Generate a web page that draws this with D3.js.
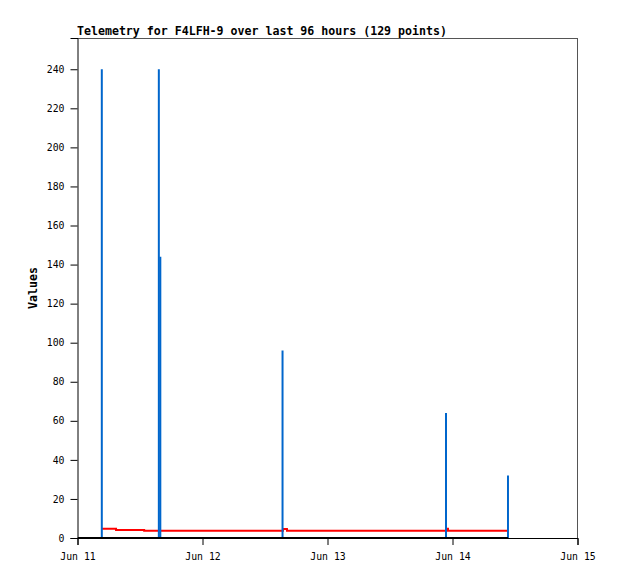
<!DOCTYPE html>
<html>
<head>
<meta charset="utf-8">
<script src="https://cdn.jsdelivr.net/npm/d3@7"></script>
<style>
  html, body { margin: 0; padding: 0; background: #fff; }
  svg { display: block; }
</style>
</head>
<body>
<svg id="chart" width="618" height="579"></svg>
<script>
// ---- data ----
const titleText = "Telemetry for F4LFH-9 over last 96 hours (129 points)";
const yLabel = "Values";
const yTicks = [0, 20, 40, 60, 80, 100, 120, 140, 160, 180, 200, 220, 240];
const xTickDates = ["2023-06-11T00:00Z", "2023-06-12T00:00Z", "2023-06-13T00:00Z", "2023-06-14T00:00Z", "2023-06-15T00:00Z"];

// red series (step)
const redTimes = ["2023-06-11T04:40Z", "2023-06-11T07:24Z", "2023-06-11T12:48Z", "2023-06-12T15:27Z", "2023-06-12T16:13Z", "2023-06-13T22:50Z", "2023-06-13T23:08Z", "2023-06-14T10:28Z"];
const redValues = [4.7, 4.1, 3.7, 4.6, 3.7, 4.8, 3.7, 3.7];

// blue series (impulses)
const blueTimes = ["2023-06-11T04:40Z", "2023-06-11T15:37Z", "2023-06-11T15:54Z", "2023-06-12T15:22Z", "2023-06-13T22:45Z", "2023-06-14T10:39Z"];
const blueValues = [240, 240, 144, 96, 64, 32];

// black series
const blackTimes = ["2023-06-11T00:00Z", "2023-06-14T10:40Z"];
const blackValues = [0, 0];

(function () {
  const svg = d3.select("#chart");
  const mLeft = 77.5, mRight = 577.5, mTop = 38, mBottom = 538;
  const parse = s => new Date(s);

  const x = d3.scaleUtc()
    .domain([parse(xTickDates[0]), parse(xTickDates[xTickDates.length - 1])])
    .range([mLeft, mRight]);
  const y = d3.scaleLinear().domain([0, 256]).range([mBottom, mTop]);

  const monoFont = "'DejaVu Sans Mono', monospace";

  // frame (top & right)
  svg.append("line").attr("x1", mLeft).attr("x2", mRight).attr("y1", mTop + 0.5).attr("y2", mTop + 0.5)
    .attr("stroke", "#555").attr("stroke-width", 1);
  svg.append("line").attr("x1", mRight).attr("x2", mRight).attr("y1", mTop).attr("y2", mBottom)
    .attr("stroke", "#555").attr("stroke-width", 1);

  svg.append("clipPath").attr("id", "plotclip")
    .append("rect").attr("x", mLeft).attr("y", mTop).attr("width", mRight - mLeft).attr("height", mBottom - mTop + 2);

  const plot = svg.append("g").attr("clip-path", "url(#plotclip)");

  // red step line
  const redData = redTimes.map((t, i) => ({ t: parse(t), v: redValues[i] }));
  plot.append("path")
    .attr("d", d3.line().x(d => x(d.t)).y(d => y(d.v)).curve(d3.curveStepAfter)(redData))
    .attr("fill", "none").attr("stroke", "#ff0000").attr("stroke-width", 2);

  // blue impulses
  const blueData = blueTimes.map((t, i) => ({ t: parse(t), v: blueValues[i] }));
  const impulse = d3.line().x(d => x(d.t)).y(d => y(d.v));
  plot.selectAll("path.blue").data(blueData).join("path")
    .attr("class", "blue")
    .attr("d", d => impulse([{ t: d.t, v: 0 }, d]))
    .attr("fill", "none").attr("stroke", "#0066cc").attr("stroke-width", 2);

  // black line
  const blackData = blackTimes.map((t, i) => ({ t: parse(t), v: blackValues[i] }));
  plot.append("path")
    .attr("d", d3.line().x(d => x(d.t)).y(d => y(d.v))(blackData))
    .attr("fill", "none").attr("stroke", "#000").attr("stroke-width", 2);

  // axes
  const yAxis = d3.axisLeft(y).tickValues(yTicks).tickSize(7).tickPadding(6);
  const gy = svg.append("g").attr("transform", `translate(${mLeft},0)`).call(yAxis);
  gy.select(".domain").attr("stroke", "#000");
  gy.selectAll(".tick line").attr("stroke", "#000");
  gy.selectAll(".tick text").attr("font-family", monoFont).attr("font-size", "9.8px").attr("fill", "#000");

  const xAxis = d3.axisBottom(x).tickValues(xTickDates.map(parse)).tickSize(7).tickPadding(8)
    .tickFormat(d3.utcFormat("%b %d"));
  const gx = svg.append("g").attr("transform", `translate(0,${mBottom})`).call(xAxis);
  gx.select(".domain").attr("stroke", "#000");
  gx.selectAll(".tick line").attr("stroke", "#000");
  gx.selectAll(".tick text").attr("font-family", monoFont).attr("font-size", "9.8px").attr("fill", "#000");

  // title
  svg.append("text").attr("x", 77).attr("y", 34.5)
    .attr("font-family", monoFont).attr("font-weight", "bold").attr("font-size", "11.6px")
    .attr("fill", "#000").text(titleText);

  // y label
  svg.append("text")
    .attr("transform", `translate(36.5,${(mTop + mBottom) / 2}) rotate(-90)`)
    .attr("text-anchor", "middle")
    .attr("font-family", monoFont).attr("font-weight", "bold").attr("font-size", "11.6px")
    .attr("fill", "#000").text(yLabel);
})();
</script>
</body>
</html>
